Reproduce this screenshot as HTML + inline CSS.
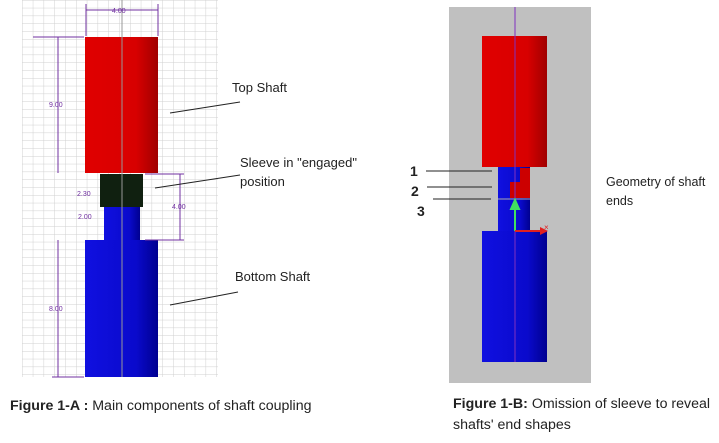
<!DOCTYPE html>
<html><head><meta charset="utf-8"><style>
body{margin:0;background:#fff;width:719px;height:438px;overflow:hidden;font-family:"Liberation Sans",sans-serif}
</style></head><body>
<svg width="719" height="438" xmlns="http://www.w3.org/2000/svg" font-family="Liberation Sans, sans-serif">
<defs>
<pattern id="g" x="22" y="0" width="10.8" height="7.8" patternUnits="userSpaceOnUse">
<path d="M0 0V7.8M0 0H10.8" stroke="#d0d0d0" stroke-width="1" fill="none"/>
</pattern>
<linearGradient id="r" x1="0" x2="1"><stop offset="0" stop-color="#e00000"/><stop offset="0.7" stop-color="#d80000"/><stop offset="1" stop-color="#a00000"/></linearGradient>
<linearGradient id="b" x1="0" x2="1"><stop offset="0" stop-color="#1010e0"/><stop offset="0.7" stop-color="#0a0acc"/><stop offset="1" stop-color="#000090"/></linearGradient>
</defs>
<rect x="22" y="0" width="196" height="377" fill="url(#g)"/>
<rect x="85" y="37" width="73" height="136" fill="url(#r)"/>
<rect x="100" y="174" width="43" height="33" fill="#102010"/>
<rect x="104" y="207" width="36" height="33" fill="url(#b)"/>
<rect x="85" y="240" width="73" height="137" fill="url(#b)"/>
<line x1="122" y1="0" x2="122" y2="377" stroke="#999" stroke-width="1"/>
<g stroke="#7030a0" stroke-width="1" fill="none">
<path d="M86 4V36M158 4V36M86 10H158"/>
<path d="M33 37H84M58 37V173M58 240V377M52 377H84"/>
<path d="M145 174H184M180 174V240M145 240H184"/>
</g>
<g fill="#7030a0" font-size="7">
<text x="112" y="13">4.00</text>
<text x="49" y="107">9.00</text>
<text x="49" y="311">8.00</text>
<text x="172" y="209">4.00</text>
<text x="77" y="196">2.30</text>
<text x="78" y="219">2.00</text>
</g>
<g stroke="#222" stroke-width="1">
<line x1="170" y1="113" x2="240" y2="102"/>
<line x1="155" y1="188" x2="240" y2="175"/>
<line x1="170" y1="305" x2="238" y2="292"/>
</g>
<g fill="#222" font-size="13">
<text x="232" y="92">Top Shaft</text>
<text x="240" y="167">Sleeve in "engaged"</text>
<text x="240" y="186">position</text>
<text x="235" y="281">Bottom Shaft</text>
</g>
<text x="10" y="410" font-size="14.2" fill="#222"><tspan font-weight="bold">Figure 1-A :</tspan> Main components of shaft coupling</text>
<rect x="449" y="7" width="142" height="376" fill="#c0c0c0"/>
<rect x="482" y="36" width="65" height="131" fill="url(#r)"/>
<rect x="498" y="167" width="32" height="64" fill="url(#b)"/>
<path d="M520 168H530V198H510V182H520Z" fill="#cc0000"/>
<rect x="482" y="231" width="65" height="131" fill="url(#b)"/>
<line x1="515" y1="7" x2="515" y2="362" stroke="#8030c0" stroke-width="1"/>
<line x1="498" y1="199" x2="530" y2="199" stroke="#aaa"/>
<path d="M515 231V204M511 209L515 200L519 209Z" stroke="#40e060" fill="#40e060" stroke-width="2"/>
<path d="M515 231H545" stroke="#e02020" stroke-width="2"/>
<path d="M540 227L548 231L540 235Z" fill="#e02020"/>
<text x="544" y="230" font-size="8" fill="#e02020">×</text>
<g stroke="#222" stroke-width="1">
<line x1="426" y1="171" x2="492" y2="171"/>
<line x1="427" y1="187" x2="492" y2="187"/>
<line x1="433" y1="199" x2="491" y2="199"/>
</g>
<g font-size="14" font-weight="bold" fill="#222">
<text x="410" y="176">1</text>
<text x="411" y="196">2</text>
<text x="417" y="216">3</text>
</g>
<text x="606" y="186" font-size="12.5" fill="#222">Geometry of shaft</text>
<text x="606" y="205" font-size="12.5" fill="#222">ends</text>
<text x="453" y="408" font-size="14.2" fill="#222"><tspan font-weight="bold">Figure 1-B:</tspan> Omission of sleeve to reveal</text>
<text x="453" y="429" font-size="14.2" fill="#222">shafts' end shapes</text>
</svg>
</body></html>
